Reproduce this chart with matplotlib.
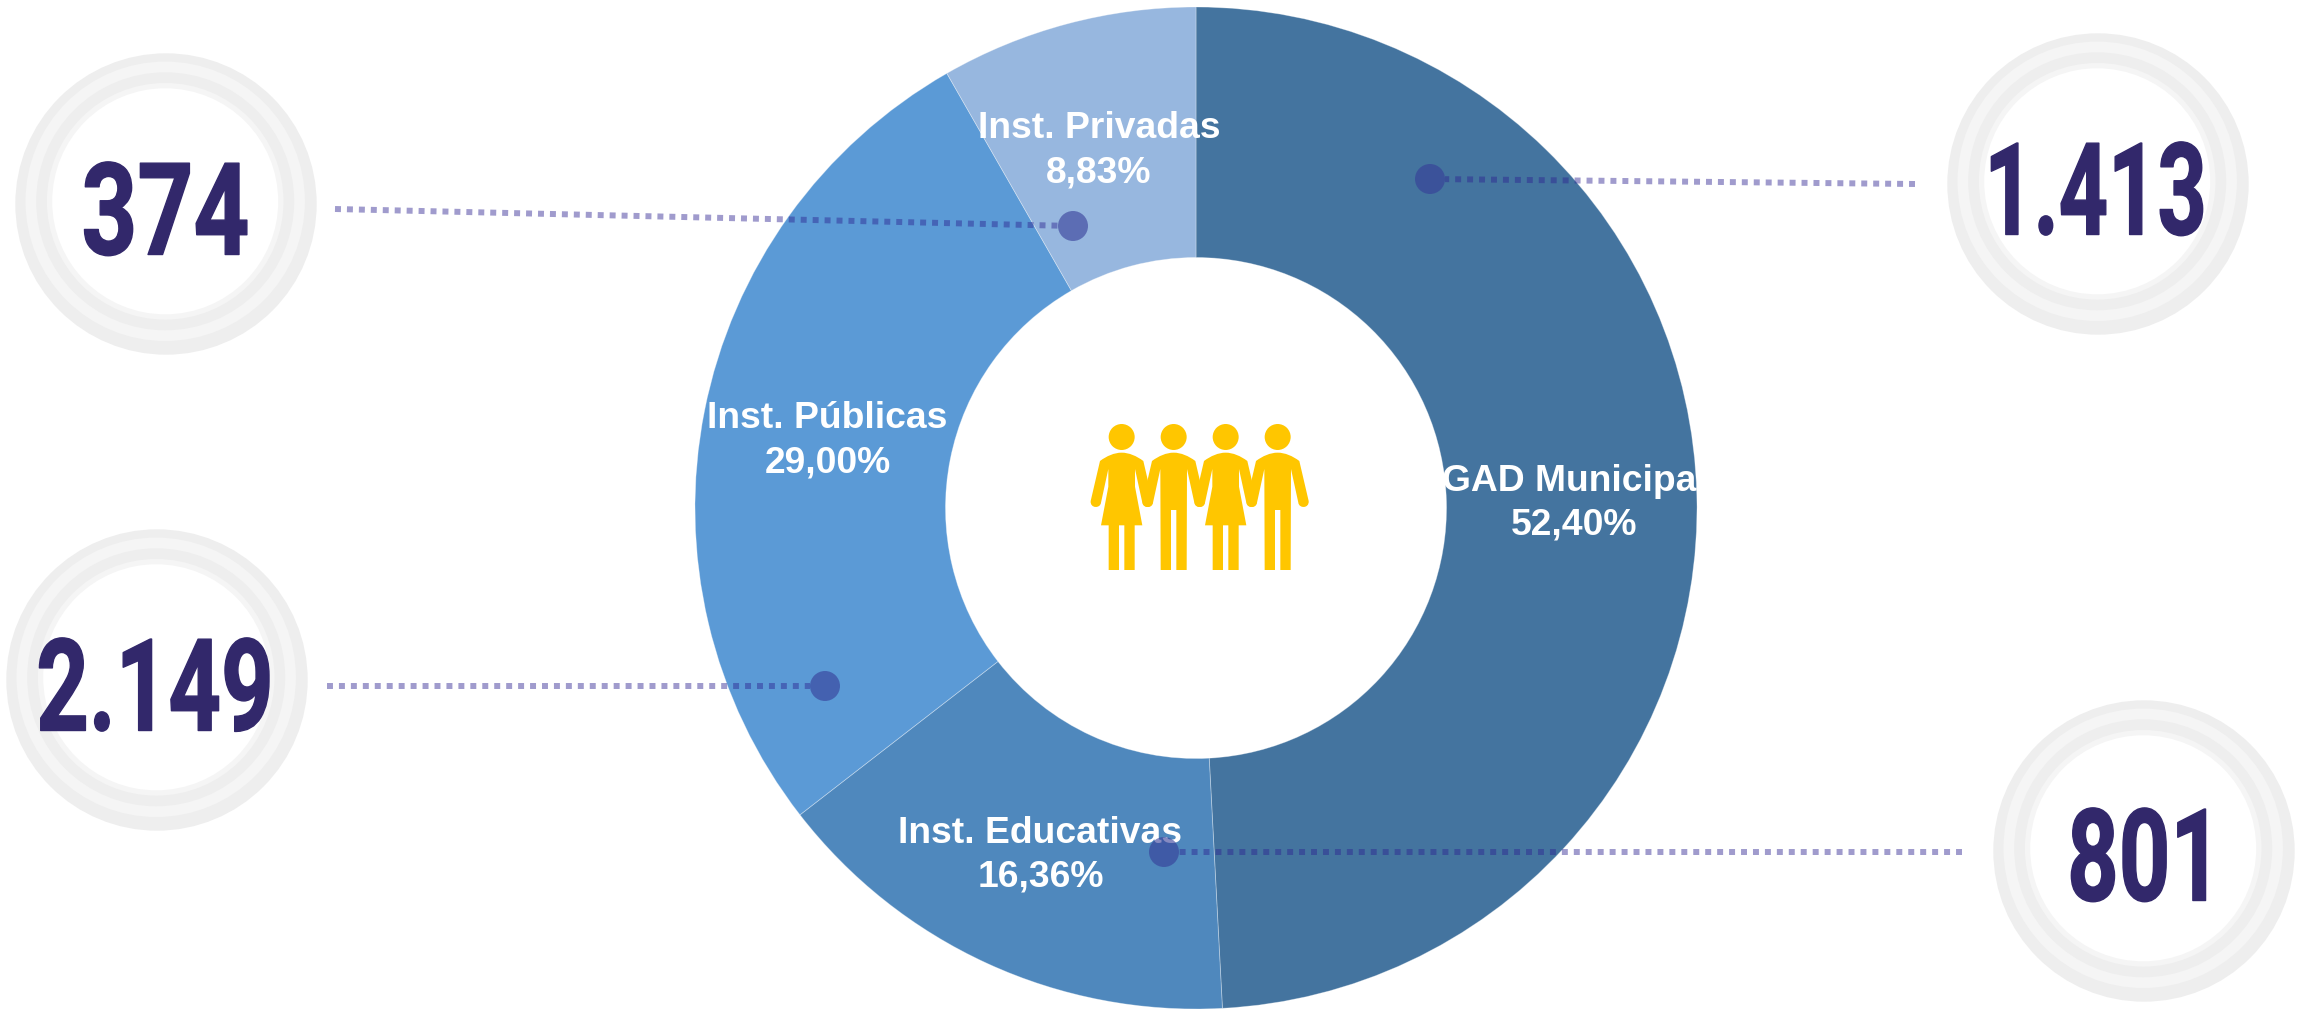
import matplotlib
matplotlib.use("Agg")
import matplotlib.pyplot as plt
from matplotlib.patches import Circle, PathPatch
from matplotlib.path import Path
from matplotlib.transforms import Affine2D, Bbox
import matplotlib.patheffects as pe
import math

# ---- data ----
categories = ["GAD Municipal", "Inst. Educativas", "Inst. Públicas", "Inst. Privadas"]
percentages = [52.40, 16.36, 29.00, 8.83]
percent_labels = ["52,40%", "16,36%", "29,00%", "8,83%"]
counts = ["1.413", "801", "2.149", "374"]

# ---- style ----
W, H = 2305, 1010
wedge_colors = ["#44749f", "#4f88bd", "#5b9ad6", "#97b7df"]
NUM_COLOR = "#32286b"

def Y(y):
    return H - y

class Squeeze(pe.AbstractPathEffect):
    """Narrows and emboldens a text about x = cx (a condensed face is not installed)."""
    def __init__(self, sx, cx, shift, stroke):
        super().__init__()
        self.sx, self.cx, self.shift, self.stroke = sx, cx, shift, stroke
    def draw_path(self, renderer, gc, tpath, affine, rgbFace=None):
        a = affine + (Affine2D().translate(-self.cx, 0).scale(self.sx, 1)
                      .translate(self.cx - self.shift, 0))
        g = renderer.new_gc()
        g.copy_properties(gc)
        g.set_foreground(rgbFace)
        g.set_linewidth(self.stroke)
        g.set_joinstyle("round")
        renderer.draw_path(g, tpath, a, rgbFace)
        g.restore()

def squeezed_text(ax, x, y, s, sx, stroke, **kw):
    t = ax.text(x, y, s, **kw)
    b = t.get_window_extent(ax.figure.canvas.get_renderer())
    shift = max(0.0, 3 - b.x0)          # keep the unnarrowed layout box on the canvas
    t.set_x(x + shift)
    t.set_path_effects([Squeeze(sx, x + shift, shift, stroke)])
    orig = t.get_window_extent
    def extent(renderer=None, dpi=None):
        e = orig(renderer, dpi)
        return Bbox.from_extents(x + (e.x0 - x - shift) * sx, e.y0,
                                 x + (e.x1 - x - shift) * sx, e.y1)
    t.get_window_extent = extent
    return t

fig = plt.figure(figsize=(W / 100, H / 100), dpi=100, facecolor="white")
ax = fig.add_axes([0, 0, 1, 1])

# donut
CX, CY, R, R_IN = 1196, 508, 501, 250.5
ax.pie(percentages, colors=wedge_colors, startangle=90, counterclock=False,
       center=(CX, Y(CY)), radius=R, frame=True,
       wedgeprops=dict(width=R - R_IN, edgecolor=(1, 1, 1, 0.35), linewidth=0.6))
ax.set_xlim(0, W)
ax.set_ylim(0, H)
ax.set_aspect("equal")
ax.axis("off")

# wedge labels: (x centre, last-line baseline) in pixels
label_pos = [(1574, 535), (1040.5, 887), (827.5, 472), (1099, 182)]
for name, pct, (x, y) in zip(categories, percent_labels, label_pos):
    ax.text(x, Y(y), f"{name}\n{pct}", color="white", ha="center", va="baseline",
            multialignment="center", fontsize=26.8, fontweight="bold",
            family="Liberation Sans", linespacing=1.32, zorder=5)

# rings and counts: ring centre, count centre x, count baseline, narrowing
ring_pos = [(2098, 184, 2095.5, 234.5, 0.67), (2144, 851, 2144.5, 900.5, 0.70),
            (157, 680, 155, 730.5, 0.715), (166, 204, 165.5, 254.5, 0.76)]
ring_radii = [(150.7, "#eeeeee"), (139.7, "#f5f5f5"), (129, "#eeeeee"),
              (118.3, "#f5f5f5"), (113, "#ffffff")]
for txt, (rx, ry, tx, ty, sx) in zip(counts, ring_pos):
    for i, (rad, col) in enumerate(ring_radii):
        dx, dy = (0, 0) if i == 0 else (-0.8, -2.7)
        ax.add_patch(Circle((rx + dx, Y(ry + dy)), rad, fc=col, ec="none", zorder=3))
    squeezed_text(ax, tx, Y(ty), txt, sx, 1.0, color=NUM_COLOR, ha="center", va="baseline",
                  fontsize=92.5, fontweight="bold", family="Roboto", zorder=6)

# callouts: line start x, y -> dot x, y
DOT_R = 15
callouts = [((1915, 184), (1430, 179)), ((1962, 852), (1164, 852)),
            ((327, 686), (825, 686)), ((335, 209), (1073, 226))]
for (x0, y0), (x1, y1) in callouts:
    d = math.hypot(x1 - x0, y1 - y0)
    ex, ey = x1 - (x1 - x0) * DOT_R / d, y1 - (y1 - y0) * DOT_R / d
    ax.plot([x0, ex], [Y(y0), Y(ey)], color="#2c2391", alpha=0.45, lw=4.3,
            dashes=(1.0, 1.0), dash_capstyle="butt", zorder=7)
    ax.add_patch(Circle((x1, Y(y1)), DOT_R, fc="#353c98", ec="none", alpha=0.6, zorder=8))

# people icon, in units of 1/3 pixel around each head
ICON_X, ICON_Y, GOLD = 1060, 400, "#ffc600"
def figure_path(hx, woman):
    def P(x, y):
        return ((hx + x) / 3 + ICON_X, Y(y / 3 + ICON_Y))
    v = [P(-65, 183), P(-45, 168), P(-22, 158), P(0, 158), P(22, 158), P(45, 168), P(65, 183)]
    c = [Path.MOVETO] + [Path.CURVE4] * 6
    v += [P(93, 303), P(95, 326), P(64, 326), P(62, 308), P(40, 207)]
    c += [Path.LINETO, Path.CURVE4, Path.CURVE4, Path.CURVE4, Path.LINETO]
    if woman:
        body = [(40, 260), (62, 376), (39, 376), (39, 510), (8, 510), (8, 376),
                (-8, 376), (-8, 510), (-39, 510), (-39, 376), (-62, 376), (-40, 260)]
    else:
        body = [(39, 510), (8, 510), (8, 330), (-8, 330), (-8, 510), (-39, 510)]
    v += [P(*b) for b in body]
    c += [Path.LINETO] * len(body)
    v += [P(-40, 207), P(-62, 308), P(-64, 326), P(-95, 326), P(-93, 303), P(-65, 183), P(-65, 183)]
    c += [Path.LINETO, Path.LINETO, Path.CURVE4, Path.CURVE4, Path.CURVE4, Path.LINETO, Path.CLOSEPOLY]
    return Path(v, c)

for hx, woman in [(185, True), (341, False), (497, True), (653, False)]:
    ax.add_patch(Circle((hx / 3 + ICON_X, Y(111 / 3 + ICON_Y)), 13, fc=GOLD, ec="none", zorder=4))
    ax.add_patch(PathPatch(figure_path(hx, woman), fc=GOLD, ec="none", zorder=4))

fig.savefig("out.png", dpi=100, facecolor="white")
